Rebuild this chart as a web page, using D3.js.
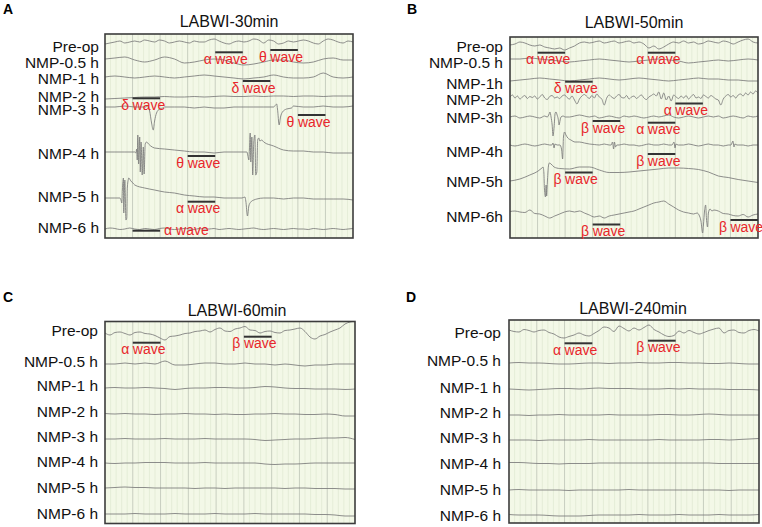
<!DOCTYPE html>
<html>
<head>
<meta charset="utf-8">
<script src="https://cdn.jsdelivr.net/npm/d3@7"></script>
<style>
  body { margin: 0; background: #fff; }
  svg { display: block; font-family: "Liberation Sans", Arial, sans-serif; }
</style>
</head>
<body>
<svg id="chart" width="762" height="527"></svg>
<script>
/* DATA */
// every trace is sampled evenly over 9 s; values in uV
const panelIds = ["A", "B", "C", "D"];
const panelTitles = ["LABWI-30min", "LABWI-50min", "LABWI-60min", "LABWI-240min"];
const rowLabels = ["Pre-op", "NMP-0.5 h", "NMP-1 h", "NMP-2 h", "NMP-3 h", "NMP-4 h", "NMP-5 h", "NMP-6 h"];
const rowLabelsB = ["Pre-op", "NMP-0.5 h", "NMP-1h", "NMP-2h", "NMP-3h", "NMP-4h", "NMP-5h", "NMP-6h"];

// panel A
const a_pre = [-4,-2,0,2,-2,0,2,0,4,2,0,4,2,-2,0,2,0,-2,2,0,0,4,6,2,-2,-4,0,2,0,2,6,4,-2,4,2,-4,-2,2,0,2,4,2,-2,-4,2,6,4,0,-2,2,0];
const a_05 = [2,4,6,0,-4,0,6,2,-6,-4,0,2,0,-6,-10,-8,-4,0,0,-4,-6,-4,2,4,0,0];
const a_1 = [0,2,0,-2,0,2,0,-2,0,2,4,2,0,-2,-4,-2,0,4,0,-2,-2,0,8,0,-2,0];
const a_2 = [-4,-3,-2,-1,0,0,1,0,0,1,0,1,2,1,1,2,1,2,2,1,2,2,1,2,2,2];
const a_3 = [0,0,2,0,0,-2,0,0,0,-2,0,-2,-2,0,0,0,0,0,0,2,0,0,2,0,0,2];
const a_4 = [0,0,0,0,16,8,6,4,2,0,0,-2,0,0,0,20,20,12,4,2,2,0,0,-2,-2,-2];
const a_5 = [0,0,0,26,20,16,12,10,6,4,2,2,0,0,0,-2,0,0,-2,0,0,-2,-2,-2,-2,-4];
const a_6 = [0,2,1,-1,0,2,0,-1,1,0,-1,1,2,0,-1,0,1,0,-1,1,0,0,1,-1,0,1,0,-1,0,1,2,0,-1,0,1,0,-1,0,1,0,0,-1,1,0,-1,0,1,0,-1,0,1];
// spike bursts: [time s, uV]
const a_3_spikes = [
  [[1.48,0],[1.55,2],[1.62,-8],[1.69,-32],[1.75,-46],[1.80,-28],[1.87,-12],[1.98,-4],[2.09,-2]],
  [[6.12,0],[6.19,4],[6.23,6],[6.26,-4],[6.32,-36],[6.37,-20],[6.44,-10],[6.59,-4],[6.77,-2]]
];
const a_4_spikes = [
  [[1.08,0],[1.12,-2],[1.15,6],[1.17,-16],[1.19,34],[1.22,-24],[1.26,30],[1.28,-40],[1.31,20],[1.35,-46],[1.39,10],[1.42,-44],[1.46,16],[1.51,20],[1.58,16],[1.66,12]],
  [[5.15,0],[5.18,-6],[5.22,-16],[5.24,4],[5.27,38],[5.29,-20],[5.33,30],[5.36,-46],[5.40,20],[5.44,34],[5.47,-46],[5.51,-40],[5.54,24],[5.58,28],[5.62,22],[5.69,24],[5.76,20]]
];
const a_5_spikes = [
  [[0.54,0],[0.58,-4],[0.61,-10],[0.63,16],[0.67,40],[0.68,-30],[0.72,36],[0.76,-44],[0.79,-40],[0.81,20],[0.85,38],[0.86,40],[0.94,34],[1.01,30],[1.08,26]],
  [[4.97,0],[5.08,2],[5.11,-6],[5.17,-36],[5.22,-16],[5.29,-8],[5.40,-4],[5.51,-2]]
];

// panel B
const b_pre = [-4,-2,2,0,-4,-6,-4,-8,-10,-12,-10,-14,-10,-6,0,2,0,2,4,0,2,4,0,2,4,0,2,-2,-10,-6,-12,-8,-2,2,0,4,0,2,-2,0,4,2,0,4,2,-2,2,6,8,2,0];
const b_05 = [2,2,4,2,0,-2,-4,-2,0,2,0,-2,-4,-2,0,2,0,-2,-6,-4,-2,0,-2,0,2,0];
const b_1 = [-2,0,2,4,2,0,-2,0,2,4,2,0,2,4,2,0,-2,0,2,4,2,2,0,0,-2,-2];
const b_2 = [0,4,-2,2,-4,0,3,-3,1,-1, 2,-4,0,5,-2,-5,1,3,-2,0, -3,2,4,-1,-4,2,-6,-14,-4,2,
  5,1,-3,3,-2,6,0,-4,-16,-2, 4,0,-3,2,5,-1,-2,3,-4,0, 2,-3,1,4,-2,-5,0,3,6,2,
  10,-4,8,-6,2,-8,4,0,-3,2, -2,3,-4,1,5,-2,0,-3,4,1, -2,3,0,-4,-6,-16,-4,2,5,0,
  3,-2,4,6,2,8,4,10,6,12, 8];
const b_3 = [0,2,-2,0,2,0,-2,2,0,0,2,-2,0,2,4,2,0,2,-2,0,2,0,-2,2,0,2,0,-2,0,2,0,2,4,0,-2,0,2,0,-2,0,2,0,2,-2,0,2,0,-2,2,0,2];
const b_4 = [0,-2,0,2,0,-2,0,2,0,0,0,0,0,0,6,4,2,1,0,2,0,-2,0,2,0,0,-2,0,2,0,0,2,0,-2,0,0,2,0,-2,0,2,0,0,-2,0,2,0,0,-2,0,0];
const b_5 = [-12,-8,0,4,20,13,12,16,16,10,5,5,6,8,10,12,14,14,13,11,6,-2,-5,-9,-12,-15];
const b_6 = [3,4,2,1,6,-1,-2,-6,-10,-6,-2,2,4,2,4,0,-4,-8,-6,-10,-6,-4,-2,0,2,4,8,12,16,20,22,24,18,12,6,2,0,-2,0,0,0,0,4,-1,-2,-5,-6,-3,-8,-4,-2];
const b_3_spikes = [
  [[1.35,0],[1.42,6],[1.45,10],[1.49,0],[1.53,-16],[1.56,-38],[1.60,-20],[1.64,8],[1.67,10],[1.71,4],[1.75,-4],[1.78,-16],[1.82,-6],[1.85,0],[1.93,2],[2.0,0]]
];
const b_4_spikes = [
  [[1.52,0],[1.56,4],[1.60,-6],[1.63,2],[1.71,0],[1.81,0],[1.87,-8],[1.91,-28],[1.94,16],[1.98,26],[2.03,20],[2.10,14],[2.21,10],[2.36,6]],
  [[3.67,0],[3.72,6],[3.76,-8],[3.79,6],[3.83,-4],[3.88,0]],
  [[5.88,0],[5.95,6],[5.99,-6],[6.02,2],[6.10,0]],
  [[8.02,0],[8.09,8],[8.13,-4],[8.16,2],[8.24,0]]
];
const b_5_spikes = [
  [[1.02,8],[1.09,11],[1.16,14],[1.20,16],[1.23,4],[1.25,-28],[1.29,-44],[1.31,-20],[1.33,-42],[1.36,-10],[1.40,20],[1.43,24],[1.49,22],[1.60,16]]
];
const b_6_spikes = [
  [[6.79,0],[6.86,-4],[6.93,-16],[6.99,-40],[7.02,-24],[7.06,4],[7.10,16],[7.13,-12],[7.17,-28],[7.20,0],[7.26,8],[7.33,4],[7.40,6]]
];

// panel C
const c_pre = [0,-4,1,2,-1,-4,1,2,-1,-2,-5,-10,-14,-7,-6,-4,-1,0,3,4,6,2,7,10,4,3,8,10,13,6,5,0,3,4,1,0,5,6,8,10,3,-8,-12,-6,-3,2,6,10,18,22,24];
const c_05 = [0,0,2,0,2,0,6,-2,-2,0,2,2,0,0,2,0,0,-2,0,-2,-4,-2,-2,0,0,0];
const c_1 = [0,1,0,0,1,0,-1,-3,-1,0,0,1,1,0,0,1,3,2,0,-1,-1,-2,-2,-2,-3,-2];
const c_2 = [1,0,1,0,0,-1,0,0,1,0,0,-1,0,-1,-1,0,0,1,0,0,-1,-1,0,-1,-4,-4];
const c_3 = [0,0,1,0,0,0,1,0,0,0,1,0,0,0,0,-1,-3,-2,-1,0,0,1,2,2,3,-1];
const c_4 = [0,-1,0,0,1,1,1,0,0,0,1,0,0,0,0,0,-2,-3,-2,-2,-1,0,0,0,0,0];
const c_5 = [0,1,2,1,1,0,0,0,0,-1,0,0,-1,0,0,0,0,0,-1,0,0,-1,-1,-1,-2,-2];
const c_6 = [0,0,0,1,0,0,0,1,0,0,0,1,0,0,0,1,0,0,0,0,0,-1,-1,-2,-4,-4];

// panel D
const d_pre = [4,1,0,5,3,0,3,4,-1,-4,-10,-12,-9,-6,-2,-6,-8,-3,3,10,8,1,12,7,2,8,4,9,14,5,0,-6,-9,-7,2,-2,3,-1,-4,-1,3,6,8,-2,3,4,-1,-2,3,5,2];
const d_05 = [0,1,0,0,-1,-2,-2,-1,0,0,-1,0,0,1,0,0,1,1,0,0,-1,-1,0,-1,-2,-2];
const d_1 = [0,-1,-2,-1,0,1,1,0,1,2,1,1,1,0,0,0,1,0,1,0,0,0,-1,-1,-1,-2];
const d_2 = [0,0,-1,0,0,1,0,0,0,0,1,0,0,0,0,1,1,0,0,1,2,1,0,0,0,0];
const d_3 = [0,0,0,-1,0,0,0,0,1,0,0,0,0,0,0,1,0,0,0,0,1,1,0,1,2,3];
const d_4 = [1,1,0,-1,-1,-2,-1,-1,-1,0,0,0,0,0,0,0,0,0,0,0,0,-1,-1,-1,-1,-1];
const d_5 = [0,1,0,0,0,0,-1,0,0,0,0,0,1,0,0,0,0,0,0,0,0,0,-1,0,0,0];
const d_6 = [1,0,0,0,-1,-2,-2,-2,-1,0,0,0,0,1,0,0,0,1,0,0,0,1,0,0,0,1];

// wave markers: greek letter + start time of the 1 s bar
const marksA = [["α",4],["θ",6],["δ",5],["δ",1],["θ",7],["θ",3],["α",3],["α",1,"left"]];
const marksB = [["α",1],["α",5],["δ",2],["α",6],["β",3],["α",5],["β",5],["β",2],["β",3],["β",8]];
const marksC = [["α",1],["β",5]];
const marksD = [["α",2],["β",5]];

const traces = {
  A: [a_pre, a_05, a_1, a_2, a_3, a_4, a_5, a_6],
  B: [b_pre, b_05, b_1, b_2, b_3, b_4, b_5, b_6],
  C: [c_pre, c_05, c_1, c_2, c_3, c_4, c_5, c_6],
  D: [d_pre, d_05, d_1, d_2, d_3, d_4, d_5, d_6]
};
const spikes = {
  A: [[], [], [], [], a_3_spikes, a_4_spikes, a_5_spikes, []],
  B: [[], [], [], [], b_3_spikes, b_4_spikes, b_5_spikes, b_6_spikes],
  C: [], D: []
};
const marks = { A: marksA, B: marksB, C: marksC, D: marksD };

/* LAYOUT */
const layout = {
  A: { x: 105, y: 34, w: 248, h: 204, titleX: 229, titleY: 27, letterX: 3, letterY: 14, labelX: 99, labels: rowLabels,
       rowY: [42, 60, 77, 97, 107, 152, 198, 229], labelY: [52, 68, 84, 102, 115, 159, 202, 233],
       markY: [52.3, 50, 81, 98.3, 115, 156, 201.7, 230.7] },
  B: { x: 510, y: 37, w: 248, h: 201, titleX: 634, titleY: 28, letterX: 407, letterY: 14, labelX: 503, labels: rowLabelsB,
       rowY: [43, 60, 80, 97, 117, 145, 175, 213], labelY: [52, 68, 89, 105, 123, 157, 187, 222],
       markY: [52.7, 52.7, 81.7, 103.5, 121, 122.7, 154, 172.5, 224.5, 220] },
  C: { x: 105, y: 321.5, w: 250, h: 202, titleX: 237, titleY: 316, letterX: 3, letterY: 302, labelX: 98, labels: rowLabels,
       rowY: [333, 364, 388, 414, 439, 463, 488, 514], labelY: [336, 367, 391, 417, 442, 467, 493, 519],
       markY: [342.7, 336.7] },
  D: { x: 509, y: 320, w: 250, h: 203, titleX: 633, titleY: 314, letterX: 406, letterY: 302, labelX: 501, labels: rowLabels,
       rowY: [332, 363, 389, 415, 440, 463, 490, 515], labelY: [338, 366, 393, 418, 443, 469, 495, 521],
       markY: [343.3, 340.7] }
};

const svg = d3.select("#chart");
const duration = 9;

// merge evenly sampled trace with its spike bursts
function buildTrace(values, bursts) {
  const dt = duration / (values.length - 1);
  let pts = values.map((v, i) => [i * dt, v]);
  (bursts || []).forEach((b) => {
    const t0 = b[0][0], t1 = b[b.length - 1][0];
    pts = pts.filter((p) => p[0] < t0 || p[0] > t1).concat(b);
  });
  return pts.sort((a, b) => a[0] - b[0]);
}

panelIds.forEach((id, pi) => {
  const L = layout[id];
  const g = svg.append("g").attr("class", "panel-" + id);

  var x = d3.scaleLinear().domain([0, duration]).range([L.x, L.x + L.w]);
  var amp = d3.scaleLinear().domain([-100, 100]).range([50, -50]);

  g.append("clipPath").attr("id", "clip" + id)
    .append("rect").attr("x", L.x).attr("y", L.y).attr("width", L.w).attr("height", L.h);

  /* BACKGROUND + GRID */
  g.append("rect").attr("x", L.x).attr("y", L.y).attr("width", L.w).attr("height", L.h)
    .attr("fill", "#f3f8e7");

  g.append("g").selectAll("line")
    .data(d3.range(0, duration * 5 + 1).map((d) => d / 5).filter((d) => Math.abs(d - Math.round(d)) > 0.01))
    .join("line")
    .attr("x1", (d) => x(d)).attr("x2", (d) => x(d))
    .attr("y1", L.y).attr("y2", L.y + L.h)
    .attr("stroke", "#dfe8d1").attr("stroke-width", 0.7);

  g.append("g").selectAll("line")
    .data(d3.range(1, duration))
    .join("line")
    .attr("x1", (d) => x(d)).attr("x2", (d) => x(d))
    .attr("y1", L.y).attr("y2", L.y + L.h)
    .attr("stroke", "#c3cabb").attr("stroke-width", 0.9);

  /* TRACES */
  const line = d3.line()
    .x((d) => x(d[0]))
    .y((d) => d.y0 + amp(d[1]))
    .curve(d3.curveMonotoneX);

  g.append("g").attr("clip-path", "url(#clip" + id + ")")
    .selectAll("path")
    .data(traces[id].map((vals, r) => {
      const pts = buildTrace(vals, spikes[id][r]);
      pts.forEach((p) => (p.y0 = L.rowY[r]));
      return pts;
    }))
    .join("path")
    .attr("d", line)
    .attr("fill", "none")
    .attr("stroke", "#7a7a7a")
    .attr("stroke-width", 0.85)
    .attr("stroke-linejoin", "round");

  // frame
  g.append("rect").attr("x", L.x).attr("y", L.y).attr("width", L.w).attr("height", L.h)
    .attr("fill", "none").attr("stroke", "#3c3c3c").attr("stroke-width", 1.6);

  /* LABELS */
  g.append("text").attr("x", L.letterX).attr("y", L.letterY)
    .attr("font-size", 14).attr("font-weight", "bold").text(id);

  g.append("text").attr("x", L.titleX).attr("y", L.titleY)
    .attr("text-anchor", "middle").attr("font-size", 16).attr("fill", "#111")
    .text(panelTitles[pi]);

  g.append("g").selectAll("text")
    .data(L.labels)
    .join("text")
    .attr("x", L.labelX)
    .attr("y", (d, i) => L.labelY[i])
    .attr("text-anchor", "end")
    .attr("font-size", 15.5)
    .attr("fill", "#111")
    .text((d) => d);

  /* WAVE MARKERS */
  const mk = g.append("g").attr("class", "marks");
  marks[id].forEach((m, i) => {
    const bx0 = x(m[1]), bx1 = x(m[1] + 1), by = L.markY[i];
    mk.append("line").attr("x1", bx0).attr("x2", bx1).attr("y1", by).attr("y2", by)
      .attr("stroke", "#333").attr("stroke-width", 2);
    if (m[2] == "left") {
      mk.append("text").attr("x", bx1 + 4).attr("y", by + 4.5)
        .attr("font-size", 14).attr("fill", "#e8262b").text(m[0] + " wave");
    } else {
      mk.append("text").attr("x", bx0 - 3.5).attr("y", by + 11.5)
        .attr("text-anchor", "end").attr("font-size", 14).attr("fill", "#e8262b").text(m[0]);
      mk.append("text").attr("x", bx0).attr("y", by + 11.5)
        .attr("font-size", 14).attr("fill", "#e8262b").text("wave");
    }
  });
});
</script>
</body>
</html>
